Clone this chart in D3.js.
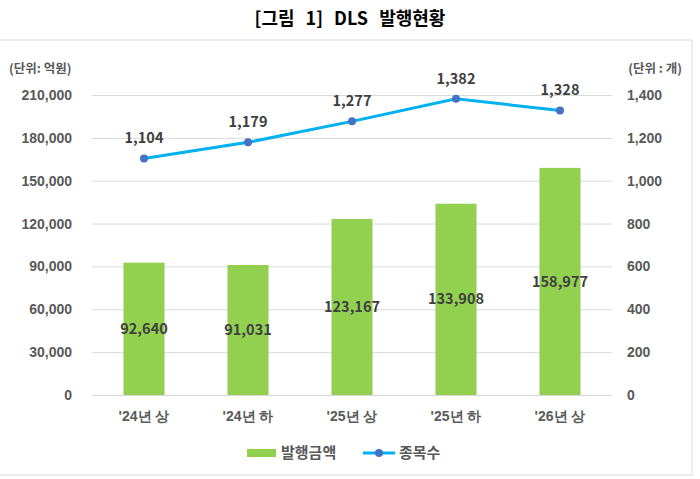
<!DOCTYPE html>
<html>
<head>
<meta charset="utf-8">
<script src="https://cdn.jsdelivr.net/npm/d3@7"></script>
<style>
  body { margin: 0; background: #fff; }
  svg { display: block; font-family: "Noto Sans CJK KR", "Noto Sans", sans-serif; }
</style>
</head>
<body>
<svg id="chart" width="700" height="479"></svg>
<script>
const categories = ["'24년 상", "'24년 하", "'25년 상", "'25년 하", "'26년 상"];
const amounts = [92640, 91031, 123167, 133908, 158977];
const counts = [1104, 1179, 1277, 1382, 1328];
const leftTicks = [0, 30000, 60000, 90000, 120000, 150000, 180000, 210000];
const rightTicks = [0, 200, 400, 600, 800, 1000, 1200, 1400];

const margin = {top: 95, right: 88, bottom: 84, left: 92};
const width = 700, height = 479;

const svg = d3.select("#chart");
const fmt = d3.format(",");

// frame
svg.append("rect")
    .attr("x", -1).attr("y", 40)
    .attr("width", 693).attr("height", 435)
    .attr("fill", "none")
    .attr("stroke", "#d9d9d9");

svg.append("text")
    .attr("x", 350).attr("y", 25)
    .attr("text-anchor", "middle")
    .attr("font-size", 18).attr("font-weight", "bold")
    .attr("word-spacing", 7)
    .attr("fill", "#000")
    .text("[그림 1] DLS 발행현황");

const yL = d3.scaleLinear().domain([0, 210000]).range([height - margin.bottom, margin.top]);
const yR = d3.scaleLinear().domain([0, 1400]).range([height - margin.bottom, margin.top]);

const band = d3.scaleBand().domain(categories).range([margin.left, width - margin.right]);

// gridlines
svg.append("g")
    .attr("transform", `translate(${margin.left},0)`)
    .call(d3.axisLeft(yL).tickValues(leftTicks).tickSize(-(width - margin.left - margin.right)).tickFormat(""))
    .call(g => g.select(".domain").remove())
    .call(g => g.selectAll("line").attr("stroke", "#d9d9d9"));

// left axis labels
svg.append("g")
    .attr("transform", `translate(${margin.left},0)`)
    .call(d3.axisLeft(yL).tickValues(leftTicks).tickSize(0).tickPadding(20).tickFormat(fmt))
    .call(g => g.select(".domain").remove())
    .call(g => g.selectAll("text")
        .attr("font-family", "inherit").attr("font-size", 14)
        .attr("font-weight", "bold").attr("fill", "#595959"));

// right axis labels
svg.append("g")
    .attr("transform", `translate(${width - margin.right},0)`)
    .call(d3.axisRight(yR).tickValues(rightTicks).tickSize(0).tickPadding(15).tickFormat(fmt))
    .call(g => g.select(".domain").remove())
    .call(g => g.selectAll("text")
        .attr("font-family", "inherit").attr("font-size", 14)
        .attr("font-weight", "bold").attr("fill", "#595959"));

// x axis labels
svg.append("g")
    .attr("transform", `translate(0,${height - margin.bottom})`)
    .call(d3.axisBottom(band).tickSize(0).tickPadding(16))
    .call(g => g.select(".domain").remove())
    .call(g => g.selectAll("text")
        .attr("font-family", "inherit").attr("font-size", 14)
        .attr("font-weight", "bold").attr("fill", "#595959"));

// unit labels
svg.append("text").attr("x", 9).attr("y", 73)
    .attr("font-size", 12.5).attr("font-weight", "bold").attr("fill", "#595959")
    .text("(단위: 억원)");
svg.append("text").attr("x", 682).attr("y", 73).attr("text-anchor", "end")
    .attr("font-size", 12.5).attr("font-weight", "bold").attr("fill", "#595959")
    .text("(단위 : 개)");

const rows = categories.map((c, i) => ({c, amount: amounts[i], count: counts[i]}));
const bw = 41;
const cx = d => band(d.c) + band.bandwidth() / 2;

// bars
svg.append("g").attr("fill", "#92d050")
  .selectAll("rect").data(rows).enter().append("rect")
    .attr("x", d => cx(d) - bw / 2)
    .attr("y", d => yL(d.amount))
    .attr("width", bw)
    .attr("height", d => yL(0) - yL(d.amount));

svg.append("g")
    .attr("text-anchor", "middle").attr("font-size", 14.5)
    .attr("font-weight", "bold").attr("fill", "#404040")
  .selectAll("text").data(rows).enter().append("text")
    .attr("x", cx)
    .attr("y", d => (yL(d.amount) + yL(0)) / 2)
    .attr("dy", "0.35em")
    .text(d => fmt(d.amount));

// line
svg.append("path").datum(rows)
    .attr("fill", "none").attr("stroke", "#00b0f0").attr("stroke-width", 3)
    .attr("d", d3.line().x(cx).y(d => yR(d.count)));

svg.append("g").attr("fill", "#4472c4")
  .selectAll("circle").data(rows).enter().append("circle")
    .attr("cx", cx).attr("cy", d => yR(d.count)).attr("r", 4);

svg.append("g")
    .attr("text-anchor", "middle").attr("font-size", 14.5)
    .attr("font-weight", "bold").attr("fill", "#404040")
  .selectAll("text").data(rows).enter().append("text")
    .attr("x", cx).attr("y", d => yR(d.count) - 15)
    .text(d => fmt(d.count));

// legend
const lg = svg.append("g").attr("transform", "translate(0,453)");
lg.append("rect").attr("x", 247).attr("y", -4).attr("width", 29).attr("height", 8).attr("fill", "#92d050");
lg.append("text").attr("x", 281).attr("dy", "0.35em")
    .attr("font-size", 15).attr("font-weight", "bold").attr("fill", "#595959").text("발행금액");
lg.append("line").attr("x1", 363).attr("x2", 395).attr("stroke", "#00b0f0").attr("stroke-width", 3);
lg.append("circle").attr("cx", 379).attr("r", 4).attr("fill", "#4472c4");
lg.append("text").attr("x", 399).attr("dy", "0.35em")
    .attr("font-size", 15).attr("font-weight", "bold").attr("fill", "#595959").text("종목수");
</script>
</body>
</html>
